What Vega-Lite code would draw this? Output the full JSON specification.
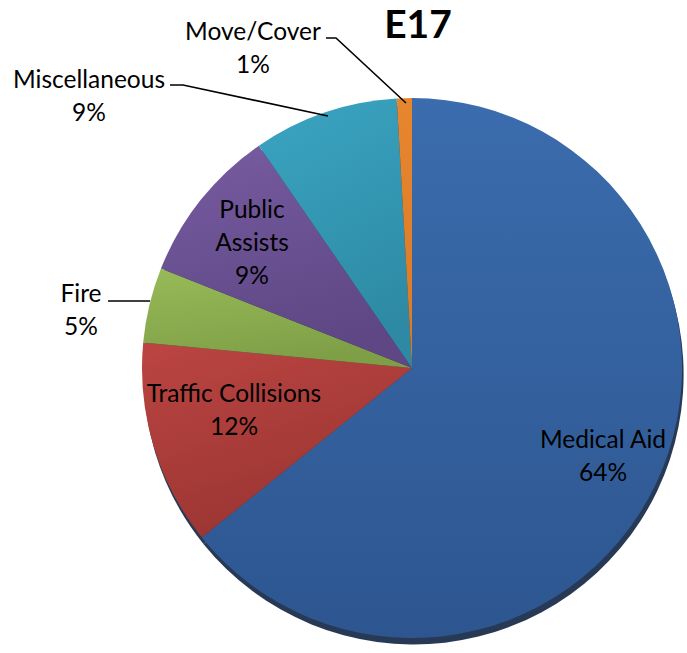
{
  "$schema": "https://vega.github.io/schema/vega-lite/v6.json",
  "width": 687,
  "height": 653,
  "autosize": "none",
  "padding": 0,
  "background": "white",
  "config": {"view": {"stroke": null}},
  "datasets": {
    "slices": [
      {"category": "Medical Aid", "share": 64.2, "rank": 1},
      {"category": "Traffic Collisions", "share": 12.3, "rank": 2},
      {"category": "Fire", "share": 4.5, "rank": 3},
      {"category": "Public Assists", "share": 9.4, "rank": 4},
      {"category": "Miscellaneous", "share": 8.7, "rank": 5},
      {"category": "Move/Cover", "share": 0.9, "rank": 6}
    ],
    "labels": [
      {"txt": "Medical Aid\n64%", "u": 0.7074, "v": -0.2704},
      {"txt": "Traffic Collisions\n12%", "u": -0.6593, "v": -0.1},
      {"txt": "Public\nAssists\n9%", "u": -0.5926, "v": 0.5815},
      {"txt": "Fire\n5%", "u": -1.2259, "v": 0.2704},
      {"txt": "Miscellaneous\n9%", "u": -1.1963, "v": 1.063},
      {"txt": "Move/Cover\n1%", "u": -0.5889, "v": 1.2407}
    ],
    "leaders": [
      {"id": "move", "ord": 1, "u": -0.3185, "v": 1.2222},
      {"id": "move", "ord": 2, "u": -0.2815, "v": 1.2222},
      {"id": "move", "ord": 3, "u": -0.0222, "v": 0.9815},
      {"id": "misc", "ord": 1, "u": -0.8963, "v": 1.0481},
      {"id": "misc", "ord": 2, "u": -0.8481, "v": 1.0481},
      {"id": "misc", "ord": 3, "u": -0.3111, "v": 0.9333},
      {"id": "fire", "ord": 1, "u": -1.1259, "v": 0.2481},
      {"id": "fire", "ord": 2, "u": -0.97, "v": 0.2481}
    ],
    "heading": [{"txt": "E17", "u": 0.0222, "v": 1.2667}]
  },
  "layer": [
    {
      "data": {"name": "slices"},
      "mark": {"type": "arc", "outerRadius": 270, "fill": "#1c2e4c", "opacity": 0.95},
      "encoding": {
        "x": {"datum": 0.006, "type": "quantitative", "scale": {"domain": [-1.52593, 1.01852], "nice": false, "zero": false}, "axis": null},
        "y": {"datum": -0.024, "type": "quantitative", "scale": {"domain": [-1.05556, 1.36296], "nice": false, "zero": false}, "axis": null},
        "theta": {"field": "share", "type": "quantitative", "stack": true},
        "order": {"field": "rank", "type": "quantitative"}
      }
    },
    {
      "data": {"name": "slices"},
      "mark": {"type": "arc", "outerRadius": 270},
      "encoding": {
        "x": {"datum": 0, "type": "quantitative"},
        "y": {"datum": 0, "type": "quantitative"},
        "theta": {"field": "share", "type": "quantitative", "stack": true},
        "order": {"field": "rank", "type": "quantitative"},
        "color": {
          "condition": [
            {"test": "datum.category === 'Medical Aid'", "value": {"gradient": "linear", "x1": 0, "y1": 0, "x2": 0, "y2": 1, "stops": [{"offset": 0, "color": "#3b6cad"}, {"offset": 1, "color": "#2d5690"}]}},
            {"test": "datum.category === 'Traffic Collisions'", "value": {"gradient": "linear", "x1": 0, "y1": 0, "x2": 0.4, "y2": 1, "stops": [{"offset": 0, "color": "#bb4542"}, {"offset": 1, "color": "#9b3532"}]}},
            {"test": "datum.category === 'Fire'", "value": {"gradient": "linear", "x1": 0, "y1": 0, "x2": 0.3, "y2": 1, "stops": [{"offset": 0, "color": "#98ba57"}, {"offset": 1, "color": "#7f9f47"}]}},
            {"test": "datum.category === 'Public Assists'", "value": {"gradient": "linear", "x1": 0, "y1": 0, "x2": 0.3, "y2": 1, "stops": [{"offset": 0, "color": "#775ca1"}, {"offset": 1, "color": "#5e4784"}]}},
            {"test": "datum.category === 'Miscellaneous'", "value": {"gradient": "linear", "x1": 0, "y1": 0, "x2": 0.3, "y2": 1, "stops": [{"offset": 0, "color": "#3aa5c2"}, {"offset": 1, "color": "#2e8aa4"}]}}
          ],
          "value": {"gradient": "linear", "x1": 0, "y1": 0, "x2": 0, "y2": 1, "stops": [{"offset": 0, "color": "#e8862f"}, {"offset": 1, "color": "#d97a28"}]}
        }
      }
    },
    {
      "data": {"name": "leaders"},
      "mark": {"type": "line", "color": "black", "strokeWidth": 1.6, "interpolate": "linear"},
      "encoding": {
        "x": {"field": "u", "type": "quantitative"},
        "y": {"field": "v", "type": "quantitative"},
        "detail": {"field": "id"},
        "order": {"field": "ord", "type": "quantitative"}
      }
    },
    {
      "data": {"name": "labels"},
      "mark": {"type": "text", "font": "Lato", "fontSize": 24.5, "lineBreak": "\n", "lineHeight": 33, "align": "center", "baseline": "middle", "color": "black"},
      "encoding": {
        "x": {"field": "u", "type": "quantitative"},
        "y": {"field": "v", "type": "quantitative"},
        "text": {"field": "txt"}
      }
    },
    {
      "data": {"name": "heading"},
      "mark": {"type": "text", "font": "Lato", "fontSize": 39, "fontWeight": "bold", "align": "center", "baseline": "middle", "color": "black"},
      "encoding": {
        "x": {"field": "u", "type": "quantitative"},
        "y": {"field": "v", "type": "quantitative"},
        "text": {"field": "txt"}
      }
    }
  ]
}
